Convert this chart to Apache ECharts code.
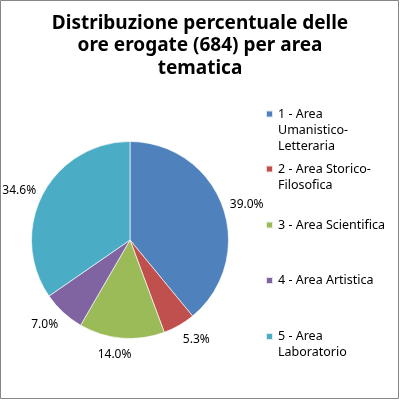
<!DOCTYPE html>
<html>
<head>
<meta charset="utf-8">
<script src="https://cdn.jsdelivr.net/npm/echarts@6/dist/echarts.min.js"></script>
<style>
  html, body { margin: 0; padding: 0; background: #fff; }
  #chart { width: 400px; height: 400px; }
</style>
</head>
<body>
<div id="chart"></div>
<script>
// data
var titleText = 'Distribuzione percentuale delle\nore erogate (684) per area\ntematica';
var categories = [
  '1 - Area Umanistico-Letteraria',
  '2 - Area Storico-Filosofica',
  '3 - Area Scientifica',
  '4 - Area Artistica',
  '5 - Area Laboratorio'
];
var legendLines = [
  ['1 - Area', 'Umanistico-', 'Letteraria'],
  ['2 - Area Storico-', 'Filosofica'],
  ['3 - Area Scientifica'],
  ['4 - Area Artistica'],
  ['5 - Area', 'Laboratorio']
];
var values = [39.0, 5.3, 14.0, 7.0, 34.6];
var colors = ['#4F81BD', '#C0504D', '#9BBB59', '#8064A2', '#4BACC6'];

var pieCenter = [130, 240];
var pieRadius = 98.5;
var labelGap = 7.5;
var lineH = 16;
var legendFirstLineY = [114, 169, 225, 280.5, 336.5];
var font = 'Noto Sans';

var total = values.reduce(function (a, b) { return a + b; }, 0);

var chart = echarts.init(document.getElementById('chart'), null, { renderer: 'canvas' });

// one legend per entry so the entries sit on an even grid like the original;
// blank lines above the text keep the marker level with the first line
var legends = categories.map(function (name, i) {
  var k = legendLines[i].length;
  var pad = [];
  for (var j = 1; j < k; j++) pad.push('');
  return {
    orient: 'vertical',
    left: 265,
    top: legendFirstLineY[i] - (2 * k - 1) * lineH / 2,
    padding: 0,
    itemWidth: 7,
    itemHeight: 7,
    icon: 'rect',
    selectedMode: false,
    data: [name],
    formatter: function () {
      return pad.concat(legendLines[i]).join('\n');
    },
    textStyle: { fontFamily: font, fontSize: 12.5, color: '#000', lineHeight: lineH }
  };
});

var option = {
  animation: false,
  color: colors,
  title: {
    text: titleText,
    left: 'center',
    top: 12,
    padding: 0,
    textStyle: { fontFamily: font, fontSize: 19, fontWeight: 'bold', color: '#000', lineHeight: 22.5 }
  },
  graphic: [{
    type: 'rect',
    shape: { x: 0.5, y: 0.5, width: 398, height: 398 },
    style: { fill: 'none', stroke: '#868686', lineWidth: 1 },
    silent: true
  }],
  legend: legends,
  series: [{
    type: 'pie',
    center: pieCenter,
    radius: pieRadius,
    startAngle: 90,
    clockwise: true,
    avoidLabelOverlap: false,
    silent: true,
    itemStyle: { borderColor: 'rgba(255,255,255,0.8)', borderWidth: 0.8 },
    label: {
      show: true,
      position: 'outside',
      fontFamily: font,
      fontSize: 12,
      color: '#000',
      formatter: function (p) { return p.value.toFixed(1) + '%'; }
    },
    labelLine: { show: false },
    labelLayout: function (params) {
      // label box just outside the rim on the slice's mid angle, pushed sideways like Excel does
      var i = params.dataIndex;
      var before = 0;
      for (var j = 0; j < i; j++) before += values[j];
      var mid = (before + values[i] / 2) / total * Math.PI * 2;
      var dx = Math.sin(mid), dy = -Math.cos(mid);
      var hw = params.labelRect.width / 2, hh = params.labelRect.height / 2;
      var r = pieRadius + labelGap;
      var side = Math.max(-1, Math.min(1, dx * 4.5));
      return {
        x: pieCenter[0] + dx * r + side * hw,
        y: pieCenter[1] + dy * (r + hh) + 2.5,
        align: 'center',
        verticalAlign: 'middle'
      };
    },
    data: categories.map(function (name, i) {
      return { name: name, value: values[i] };
    })
  }]
};

chart.setOption(option);
</script>
</body>
</html>
